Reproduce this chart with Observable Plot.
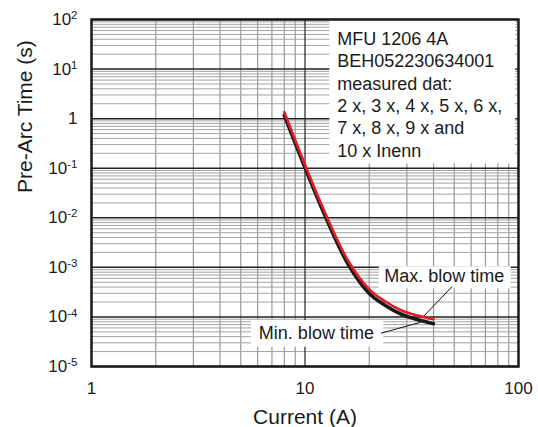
<!DOCTYPE html>
<html><head><meta charset="utf-8">
<script src="https://cdn.jsdelivr.net/npm/d3@7"></script>
<script src="https://cdn.jsdelivr.net/npm/@observablehq/plot@0.6"></script>
<style>
html,body{margin:0;padding:0;background:#fff;}
</style>
</head><body><div id="chart"></div>
<script>
// ---- data ----
const currents = [8, 12, 16, 20, 24, 28, 32, 36, 40];
const maxBlow  = [1.35, 0.0177, 1.31e-3, 3.6e-4, 2.0e-4, 1.38e-4, 1.13e-4, 9.95e-5, 8.95e-5];
const minBlow  = [1.16, 0.0154, 1.11e-3, 2.98e-4, 1.66e-4, 1.15e-4, 9.4e-5, 8.2e-5, 7.3e-5];
const xTicks = [1, 10, 100];
const xTickLabels = ["1", "10", "100"];
const yTicks = [1e-5, 1e-4, 1e-3, 1e-2, 1e-1, 1, 10, 100];
const yTickLabels = ["10^-5", "10^-4", "10^-3", "10^-2", "10^-1", "1", "10^1", "10^2"];
const infoLines = ["MFU 1206 4A", "BEH052230634001", "measured dat:", "2 x, 3 x, 4 x, 5 x, 6 x,", "7 x, 8 x, 9 x and", "10 x Inenn"];
const xTitle = "Current (A)";
const yTitle = "Pre-Arc Time (s)";
const maxLabel = "Max. blow time";
const minLabel = "Min. blow time";

// ---- annotation placement (data units) ----
const boxes = [
  {x1: 13.07, x2: 97, y1: 0.1227, y2: 100},
  {x1: 22.3, x2: 92.4, y1: 3.69e-4, y2: 1.03e-3},
  {x1: 5.62, x2: 23.4, y1: 2.45e-5, y2: 8.47e-5}
];
const leaders = [
  {x1: 48.9, y1: 4.11e-4, x2: 35.4, y2: 9.6e-5},
  {x1: 22.7, y1: 4.7e-5, x2: 34.8, y2: 7.8e-5}
];
const labels = [
  {x: 23.5, y: 4.95e-4, text: maxLabel},
  {x: 6.08, y: 3.67e-5, text: minLabel}
];
const info = [{x: 14.15, y: 0.172, text: infoLines.join("\n")}];

// ---- grid values ----
const minorX = [];
for (const d of [1, 10]) for (let m = 2; m <= 9; m++) minorX.push(m * d);
const minorY = [];
for (let k = -5; k <= 1; k++) for (let m = 2; m <= 9; m++) minorY.push(m * Math.pow(10, k));

const rows = currents.map((c, i) => ({current: c, max: maxBlow[i], min: minBlow[i]}));

const FONT = "'Liberation Sans', Arial, Helvetica, sans-serif";
const fmtY = d => {
  const i = yTicks.findIndex(t => Math.abs(Math.log10(t) - Math.log10(d)) < 1e-6);
  return i >= 0 ? yTickLabels[i] : "";
};
const fmtX = d => {
  const i = xTicks.findIndex(t => Math.abs(Math.log10(t) - Math.log10(d)) < 1e-6);
  return i >= 0 ? xTickLabels[i] : "";
};

const svg = Plot.plot({
  width: 538, height: 427,
  marginLeft: 91, marginRight: 20, marginTop: 19, marginBottom: 61,
  style: {fontFamily: FONT, fontSize: "17px", color: "#1a1a1a", background: "white"},
  x: {type: "log", domain: [1, 100]},
  y: {type: "log", domain: [1e-5, 100]},
  marks: [
    Plot.ruleX(minorX, {stroke: "#999", strokeWidth: 1.2}),
    Plot.ruleY(minorY, {stroke: "#a3a3a3", strokeWidth: 1}),
    Plot.ruleX([10], {stroke: "#222", strokeWidth: 1.2}),
    Plot.ruleY(yTicks, {stroke: "#222", strokeWidth: 1.5}),
    Plot.rect(boxes, {x1: "x1", x2: "x2", y1: "y1", y2: "y2", fill: "white"}),
    Plot.link(leaders, {x1: "x1", y1: "y1", x2: "x2", y2: "y2", stroke: "#111", strokeWidth: 1}),
    Plot.line(rows, {x: "current", y: "min", stroke: "#1a1a1a", strokeWidth: 3.6, curve: "catmull-rom"}),
    Plot.line(rows, {x: "current", y: "max", stroke: "#e31b23", strokeWidth: 2.6, curve: "catmull-rom"}),
    Plot.text(info, {x: "x", y: "y", text: "text", textAnchor: "start", lineAnchor: "bottom", lineHeight: 1.241, fontSize: 18, fill: "#1a1a1a"}),
    Plot.text(labels, {x: "x", y: "y", text: "text", textAnchor: "start", lineAnchor: "bottom", fontSize: 18, fill: "#1a1a1a"}),
    Plot.frame({stroke: "#1a1a1a", strokeWidth: 2.5}),
    Plot.axisX({ticks: xTicks, tickFormat: fmtX, tickSize: 0, tickPadding: 15.5, fontSize: 17, label: null}),
    Plot.axisY({ticks: yTicks, tickFormat: fmtY, tickSize: 0, tickPadding: 14, fontSize: 17, label: null}),
    Plot.text([xTitle], {text: d => d, frameAnchor: "bottom", dy: 57, lineAnchor: "bottom", fontSize: 21, fill: "#1a1a1a"}),
    Plot.text([yTitle], {text: d => d, frameAnchor: "left", dx: -59.5, rotate: -90, lineAnchor: "bottom", fontSize: 21, fill: "#1a1a1a"})
  ]
});

// superscript exponents on y tick labels
d3.select(svg).selectAll('g[aria-label="y-axis tick label"] text').each(function () {
  const s = this.textContent;
  const m = s.match(/^(\d+)\^(.+)$/);
  if (!m) return;
  this.textContent = "";
  const t = d3.select(this);
  t.append("tspan").text(m[1]);
  t.append("tspan").attr("dy", "-0.5em").attr("font-size", "11.5").text(m[2]);
});

document.getElementById("chart").appendChild(svg);
</script>
</body></html>
